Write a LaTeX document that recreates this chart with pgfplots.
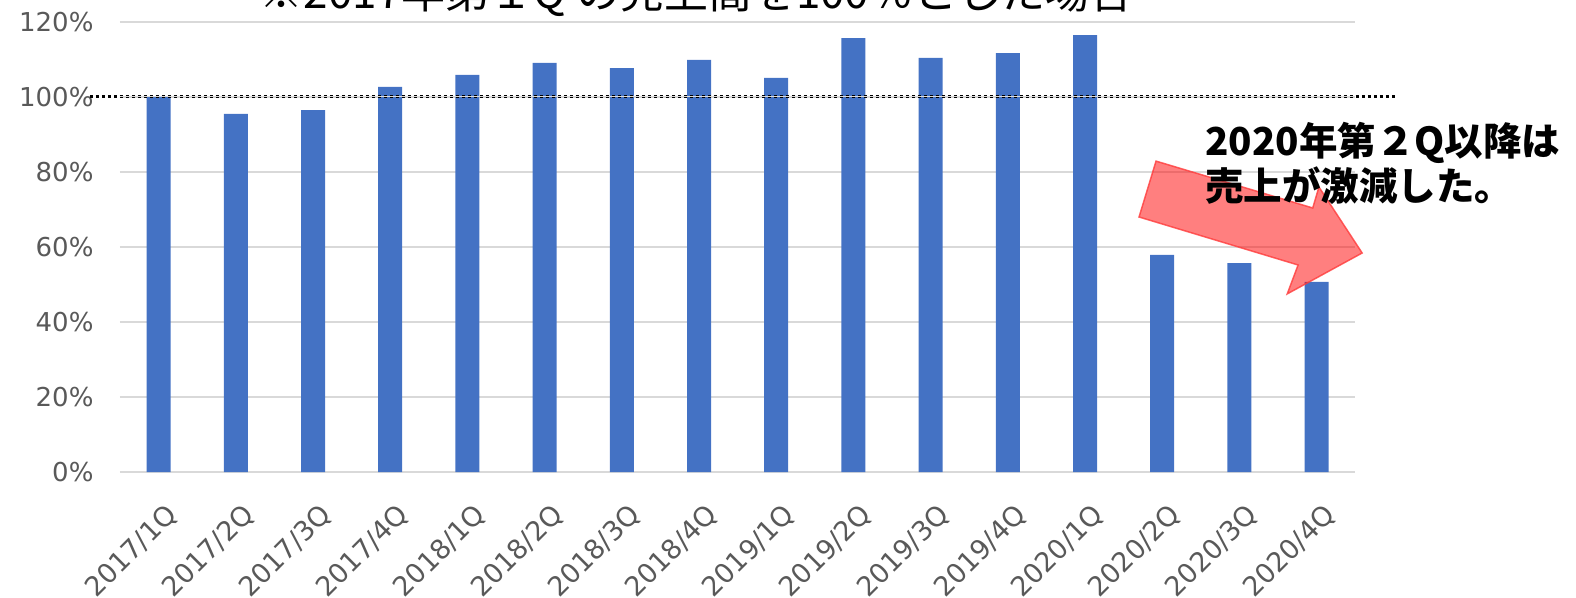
\documentclass[border=0pt]{standalone}
\usepackage{pgfplots}
\pgfplotsset{compat=1.18}
\usepackage{fontspec}
\setmainfont{DejaVu Sans}
\newfontfamily\jp{Noto Sans CJK JP}
\definecolor{barblue}{HTML}{4472C4}
\definecolor{gridgray}{HTML}{D9D9D9}
\definecolor{ticktext}{HTML}{595959}
\begin{document}
\begin{tikzpicture}
\begin{axis}[
  at={(0,0)}, anchor=south west,
  x=77.2bp, y=3.75bp,
  xmin=-0.5, xmax=15.5, ymin=0, ymax=120,
  ybar, bar width=24bp,
  clip=false,
  axis line style={draw=none},
  tick style={draw=none},
  ymajorgrids,
  grid style={gridgray, line width=1.3bp},
  ytick={0,20,...,120},
  yticklabel={\pgfmathprintnumber{\tick}\%},
  /pgf/number format/assume math mode=true,
  xtick={0,...,15},
  xticklabels={2017/1Q,2017/2Q,2017/3Q,2017/4Q,2018/1Q,2018/2Q,2018/3Q,2018/4Q,2019/1Q,2019/2Q,2019/3Q,2019/4Q,2020/1Q,2020/2Q,2020/3Q,2020/4Q},
  tick label style={font=\fontsize{26bp}{30bp}\selectfont, text=ticktext},
  yticklabel style={anchor=east, xshift=-23bp},
  xticklabel style={rotate=45, anchor=east, font=\fontsize{27bp}{30bp}\selectfont, xshift=-11bp, yshift=-34bp},
]
\addplot[fill=barblue, draw=none] coordinates {
(0,100) (1,95.5) (2,96.5) (3,102.7) (4,105.9) (5,109.1) (6,107.7) (7,109.9)
(8,105.1) (9,115.7) (10,110.4) (11,111.7) (12,116.5) (13,57.9) (14,55.7) (15,50.7)};
\draw[black, line width=3bp, dash pattern=on 3bp off 3bp] (axis cs:-0.889,100) -- (axis cs:16.02,100);
\draw[gridgray, line width=1bp] (axis cs:-0.5,100) -- (axis cs:15.5,100);
\filldraw[fill={rgb,255:red,255;green,0;blue,0}, fill opacity=0.5, draw={rgb,255:red,255;green,60;blue,60}, draw opacity=0.8, line width=1.5bp]
  (axis cs:12.92,82.9) -- (axis cs:14.95,70.4) -- (axis cs:15.03,76.0) -- (axis cs:15.59,58.4)
  -- (axis cs:14.62,47.5) -- (axis cs:14.76,55.2) -- (axis cs:12.70,68.0) -- cycle;
\node[anchor=base west, inner sep=0pt, font=\jp\bfseries\fontsize{38.5bp}{44bp}\selectfont] at (axis cs:13.555,84.3) {2020年第２Q以降は};
\node[anchor=base west, inner sep=0pt, font=\jp\bfseries\fontsize{38.5bp}{44bp}\selectfont] at (axis cs:13.555,72.5) {売上が激減した。};
\node[anchor=base, inner sep=0pt, font=\jp\fontsize{44bp}{50bp}\selectfont] at (axis cs:6.97,123.7) {※2017年第１Q の売上高を100％とした場合};
\end{axis}
\pgfresetboundingbox
\useasboundingbox (-120bp,-126bp) rectangle (1456bp,472bp);
\end{tikzpicture}
\end{document}
